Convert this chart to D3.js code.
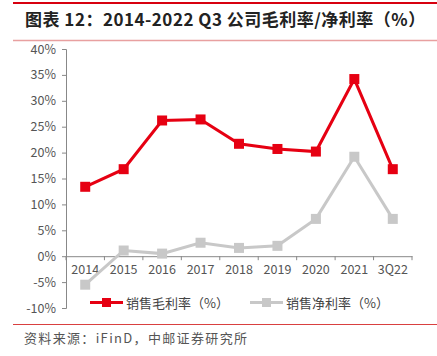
<!DOCTYPE html>
<html><head><meta charset="utf-8">
<script src="https://cdn.jsdelivr.net/npm/d3@7"></script>
<style>body{margin:0;background:#fff}svg{display:block}text{font-family:"Noto Sans CJK SC","Liberation Sans",sans-serif}</style>
</head><body><svg id="c" width="437" height="356"></svg>
<script>
const categories = ["2014","2015","2016","2017","2018","2019","2020","2021","3Q22"];
const grossMargin = [13.4,16.8,26.2,26.4,21.7,20.7,20.2,34.2,16.8];
const netMargin = [-5.5,1.1,0.5,2.6,1.6,2.0,7.2,19.2,7.2];
const yTicks = [40,35,30,25,20,15,10,5,0,-5,-10];
const seriesNames = ["销售毛利率（%）","销售净利率（%）"];
const colors = ["#e60012","#c8c8c8"];

const svg = d3.select("#c");
// header lines
svg.append("line").attr("x1",13).attr("x2",437).attr("y1",3).attr("y2",3).attr("stroke","#d7000f").attr("stroke-width",2);
svg.append("line").attr("x1",13).attr("x2",437).attr("y1",40.5).attr("y2",40.5).attr("stroke","#e8a0a0").attr("stroke-width",1.5);
svg.append("text").attr("x",25).attr("y",25.5).attr("font-size",17).attr("font-weight","bold").attr("fill","#222")
  .style("letter-spacing","0.5px")
  .text("图表 12：2014-2022 Q3 公司毛利率/净利率（%）");

const x = d3.scaleBand().domain(categories).range([66,412]);
const y = d3.scaleLinear().domain([-10,40]).range([308,49]);

// y axis
const ya = svg.append("g").attr("transform","translate(66,0)")
  .call(d3.axisLeft(y).tickValues(yTicks).tickSize(4).tickPadding(6).tickFormat(d=>d+"%"));
ya.select(".domain").attr("stroke","#888").attr("d","M-4,49.5H0.5V308.5H-4");
ya.selectAll(".tick line").attr("stroke","#888");
ya.selectAll("text").attr("font-size",12.5).attr("fill","#555").attr("font-family","Liberation Sans, Arial, sans-serif");

// x axis at 0
const xa = svg.append("g").attr("transform",`translate(0,${y(0)})`)
  .call(d3.axisBottom(x).tickSize(0).tickPadding(9));
xa.select(".domain").attr("stroke","#888");
xa.selectAll("text").attr("font-size",12.5).attr("fill","#555").attr("font-family","Liberation Sans, Arial, sans-serif");
const bounds = categories.map(c=>x(c)).concat([x.range()[1]]);
xa.selectAll(".sep").data(bounds).enter().append("line").attr("class","sep")
  .attr("x1",d=>d).attr("x2",d=>d).attr("y1",0).attr("y2",4).attr("stroke","#888");

const cx = c => x(c)+x.bandwidth()/2;
const line = d3.line().x((d,i)=>cx(categories[i])).y(d=>y(d));
[netMargin,grossMargin].forEach((s,k)=>{
  const col = k===0?colors[1]:colors[0];
  svg.append("path").datum(s).attr("d",line).attr("fill","none").attr("stroke",col).attr("stroke-width",3);
  svg.selectAll(null).data(s).enter().append("rect")
    .attr("x",(d,i)=>cx(categories[i])-5).attr("y",d=>y(d)-5).attr("width",10).attr("height",10).attr("fill",col);
});

// legend
const lg = [{x:90,c:colors[0],t:seriesNames[0]},{x:250,c:colors[1],t:seriesNames[1]}];
lg.forEach(l=>{
  svg.append("line").attr("x1",l.x).attr("x2",l.x+33).attr("y1",302.5).attr("y2",302.5).attr("stroke",l.c).attr("stroke-width",3);
  svg.append("rect").attr("x",l.x+12).attr("y",298).attr("width",9).attr("height",9).attr("fill",l.c);
  svg.append("text").attr("x",l.x+36).attr("y",307.5).attr("font-size",13).attr("fill","#444").text(l.t);
});

svg.append("line").attr("x1",13).attr("x2",437).attr("y1",324.5).attr("y2",324.5).attr("stroke","#d94040").attr("stroke-width",1);
svg.append("text").attr("x",24).attr("y",343).attr("font-size",13).attr("fill","#555")
  .attr("textLength",223).attr("lengthAdjust","spacing").text("资料来源：iFinD，中邮证券研究所");
</script></body></html>
